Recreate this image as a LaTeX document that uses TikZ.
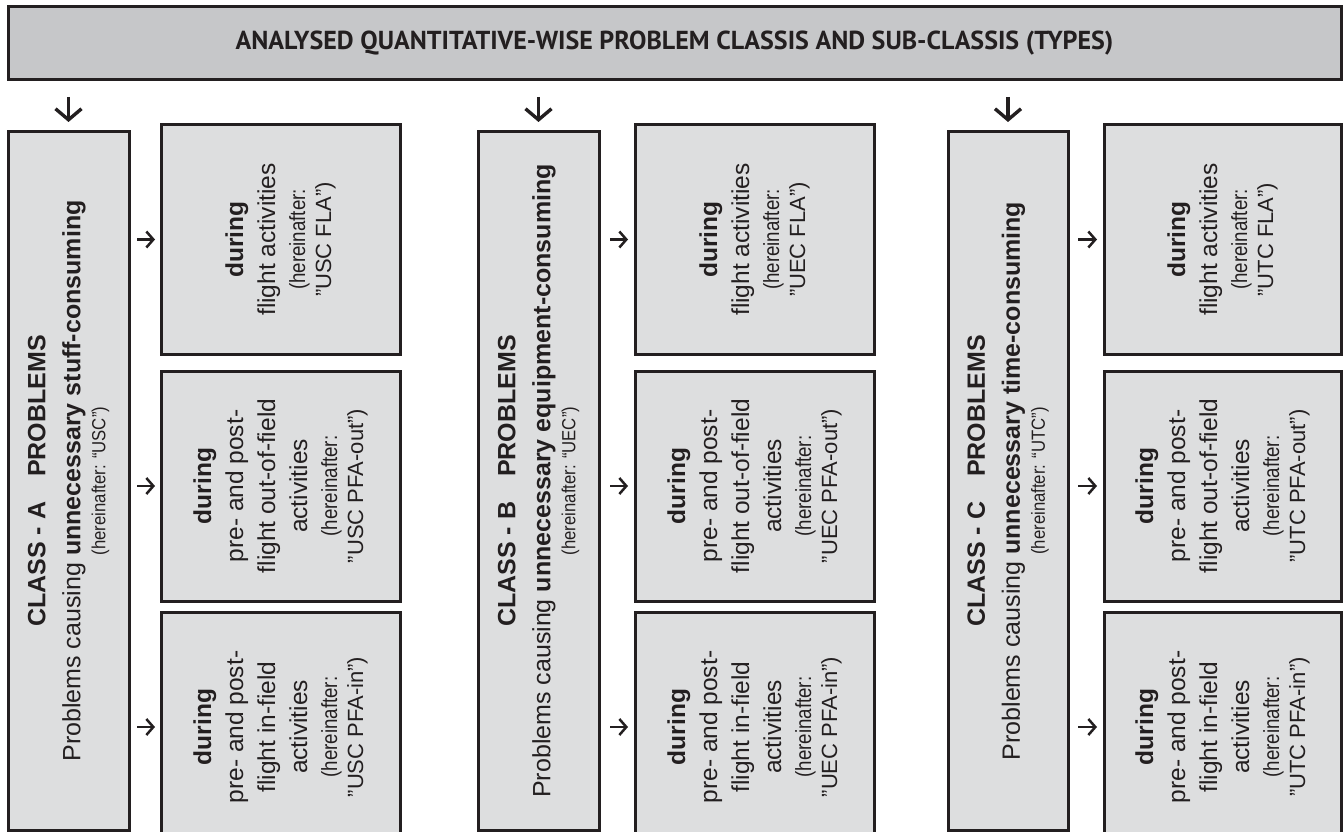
\documentclass[tikz,border=0pt]{standalone}
\usepackage{fontspec}
\setmainfont{Liberation Sans}
\newfontfamily\headfont{PT Sans}
\usetikzlibrary{arrows.meta}
\definecolor{ink}{HTML}{231F20}
\definecolor{headfill}{HTML}{C6C7C9}
\definecolor{boxfill}{HTML}{DDDEDF}
\newcommand\classtext[3]{\rotatebox{90}{\parbox{690pt}{\centering
  \fontsize{25}{35}\selectfont\bfseries #1\par
  \mdseries\fontsize{25}{35}\selectfont #2\par
  \fontsize{19}{25}\selectfont\scalebox{0.88}[1]{#3}\par}}}
\newcommand\subtext[2]{\rotatebox{90}{\parbox{230pt}{\centering
  \fontsize{24.5}{32}\selectfont\textbf{during}\par #1\par
  \fontsize{22}{30}\selectfont\scalebox{0.85}[1]{(hereinafter:}\par
  \fontsize{22}{26}\selectfont #2\par}}}
\tikzset{
  frame/.style={draw=ink, line width=3pt, inner sep=0pt, outer sep=0pt, text=ink},
  headbox/.style={frame, fill=headfill, minimum width=1333pt, minimum height=73pt},
  classbox/.style={frame, fill=boxfill, minimum height=698pt},
  subbox/.style={frame, fill=boxfill},
  downarrow/.style={draw=ink, line width=3.4pt, -{Straight Barb[length=11pt,width=26pt]}},
  rightarrow/.style={draw=ink, line width=2.5pt, -{Straight Barb[length=7pt,width=16pt]}},
}
\begin{document}
\begin{tikzpicture}[x=1pt,y=-1pt]
\useasboundingbox (0,0) rectangle (1343,832);
\node[headbox] (head) at (674.5,43.5)
  {\headfont\bfseries\fontsize{26}{30}\selectfont ANALYSED QUANTITATIVE-WISE PROBLEM CLASSIS AND SUB-CLASSIS (TYPES)};
% class boxes
\node[classbox, minimum width=121pt] (cA) at (68.5,481)
  {\classtext{CLASS - A\quad PROBLEMS}{Problems causing \textbf{unnecessary stuff-consuming}}{(hereinafter: “USC”)}};
\node[classbox, minimum width=121pt] (cB) at (538.5,481)
  {\classtext{CLASS - B\quad PROBLEMS}{Problems causing \textbf{unnecessary equipment-consuming}}{(hereinafter: “UEC”)}};
\node[classbox, minimum width=120pt] (cC) at (1008,481)
  {\classtext{CLASS - C\quad PROBLEMS}{Problems causing \textbf{unnecessary time-consuming}}{(hereinafter: “UTC”)}};
% sub boxes A
\node[subbox, minimum width=239pt, minimum height=215pt] (a1) at (280.5,239.5)
  {\subtext{flight activities}{"USC FLA")}};
\node[subbox, minimum width=239pt, minimum height=208pt] (a2) at (280.5,486)
  {\subtext{pre- and post-\par flight out-of-field\par activities}{"USC PFA-out")}};
\node[subbox, minimum width=239pt, minimum height=206pt] (a3) at (280.5,727)
  {\subtext{pre- and post-\par flight in-field\par activities}{"USC PFA-in")}};
% sub boxes B
\node[subbox, minimum width=239pt, minimum height=215pt] (b1) at (754.5,239.5)
  {\subtext{flight activities}{"UEC FLA")}};
\node[subbox, minimum width=239pt, minimum height=208pt] (b2) at (754.5,486)
  {\subtext{pre- and post-\par flight out-of-field\par activities}{"UEC PFA-out")}};
\node[subbox, minimum width=239pt, minimum height=206pt] (b3) at (754.5,727)
  {\subtext{pre- and post-\par flight in-field\par activities}{"UEC PFA-in")}};
% sub boxes C
\node[subbox, minimum width=237pt, minimum height=215pt] (c1) at (1222.5,239.5)
  {\subtext{flight activities}{"UTC FLA")}};
\node[subbox, minimum width=237pt, minimum height=208pt] (c2) at (1222.5,486)
  {\subtext{pre- and post-\par flight out-of-field\par activities}{"UTC PFA-out")}};
\node[subbox, minimum width=237pt, minimum height=206pt] (c3) at (1222.5,727)
  {\subtext{pre- and post-\par flight in-field\par activities}{"UTC PFA-in")}};
% down arrows
\foreach \c in {cA,cB,cC}
  \draw[downarrow, shorten <=17pt, shorten >=10pt] (head.south -| \c.north) -- (\c.north);
% right arrows
\foreach \s in {a1,a2,a3}
  \draw[rightarrow, shorten <=8pt, shorten >=6pt] (cA.east |- \s.west) -- (\s.west);
\foreach \s in {b1,b2,b3}
  \draw[rightarrow, shorten <=11pt, shorten >=7pt] (cB.east |- \s.west) -- (\s.west);
\foreach \s in {c1,c2,c3}
  \draw[rightarrow, shorten <=10pt, shorten >=7pt] (cC.east |- \s.west) -- (\s.west);
\end{tikzpicture}
\end{document}
